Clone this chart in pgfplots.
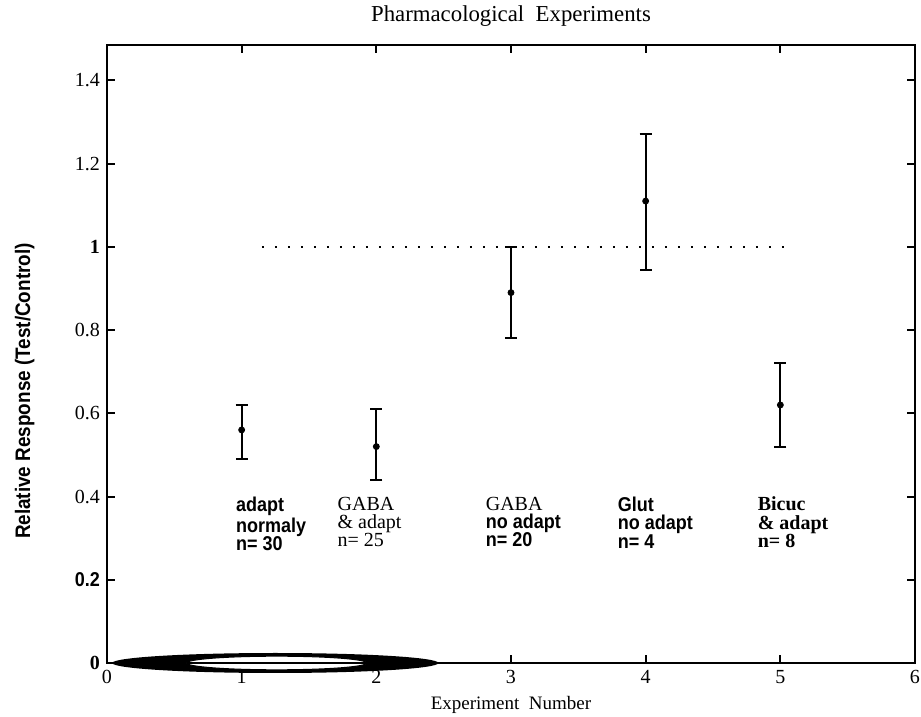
\documentclass[border=0pt]{standalone}
\usepackage{pgfplots}
\pgfplotsset{compat=1.18}
\usepackage{fontspec}
\setmainfont{Liberation Serif}
\newfontfamily\narrowsans[FakeStretch=0.9]{Liberation Sans}

\begin{document}
\begin{tikzpicture}
\begin{axis}[
    scale only axis,
    width=404pt, height=309pt,
    xmin=0, xmax=6,
    ymin=0, ymax=1.485,
    xtick={0,1,2,3,4,5,6},
    ytick={0,0.2,0.4,0.6,0.8,1,1.2,1.4},
    yticklabels={\textbf{0},{\narrowsans\bfseries 0.2},0.4,0.6,0.8,\textbf{1},1.2,1.4},
    /pgf/number format/assume math mode=true,
    tick label style={font=\fontsize{10}{12}\selectfont},
    tick align=inside,
    major tick length=4pt,
    axis line style={line width=1.2pt},
    every tick/.style={black, line width=1pt},
    title={Pharmacological\ \ Experiments},
    every axis title/.style={font=\fontsize{11.4}{13}\selectfont, at={(axis description cs:0.5,1)}, anchor=base, yshift=11.5pt},
    xlabel={Experiment\ \ Number},
    xlabel style={font=\fontsize{9.5}{11}\selectfont, at={(axis description cs:0.5,0)}, anchor=north, yshift=-13pt},
    ylabel={Relative Response (Test/Control)},
    ylabel style={font=\narrowsans\bfseries\fontsize{10.5}{12}\selectfont, at={(axis description cs:-0.102,0.44)}, anchor=center, rotate=0},
    clip=false,
]
% reference line at 1
\addplot[black, line width=1.2pt, dash pattern=on 1pt off 5.5pt] coordinates {(1.15,1) (5.05,1)};

% means with error bars (mean, +err, -err)
\addplot[black, only marks, mark=*, mark size=1.5pt,
    error bars/.cd, y dir=both, y explicit,
    error bar style={line width=1pt},
    error mark options={rotate=90, mark size=3pt, line width=1pt}]
coordinates {
    (1,0.56) += (0,0.06) -= (0,0.07)
    (2,0.52) += (0,0.09) -= (0,0.08)
    (3,0.89) += (0,0.11) -= (0,0.11)
    (4,1.11) += (0,0.16) -= (0,0.165)
    (5,0.62) += (0,0.10) -= (0,0.10)
};

\coordinate (sw) at (rel axis cs:0,0);
\coordinate (blob) at (axis cs:1.25,0);
\coordinate (hole) at (axis cs:1.26,0);

\begin{scope}[every node/.style={anchor=north west, align=left, inner sep=0pt}]
\node[font=\narrowsans\bfseries\fontsize{10}{9.2}\selectfont] at (axis cs:0.955,0.40) {adapt\\normaly\\n= 30};
\node[font=\fontsize{10}{9.2}\selectfont] at (axis cs:1.71,0.40) {GABA\\\& adapt\\n=\ 25};
\node[font=\fontsize{10}{9.2}\selectfont] at (axis cs:2.81,0.40) {GABA\\{\narrowsans\bfseries no adapt}\\{\narrowsans\bfseries n= 20}};
\node[font=\narrowsans\bfseries\fontsize{10}{9.2}\selectfont] at (axis cs:3.79,0.40) {Glut\\no adapt\\n= 4};
\node[font=\bfseries\fontsize{10}{9.2}\selectfont] at (axis cs:4.83,0.40) {Bicuc\\\& adapt\\n= 8};
\end{scope}
\end{axis}

% scan blot on the x axis
\fill[black] (blob) ellipse [x radius=81.5pt, y radius=5pt];
\draw[black, fill=white, line width=0.5pt] (hole) ellipse [x radius=45pt, y radius=3.4pt];
\draw[black, line width=0.8pt] ([xshift=-45pt]hole) -- ([xshift=45pt]hole);

\pgfresetboundingbox
\path[use as bounding box] ([shift={(-53.5pt,-27pt)}]sw) rectangle ++(460.5pt,358.5pt);
\end{tikzpicture}
\end{document}
